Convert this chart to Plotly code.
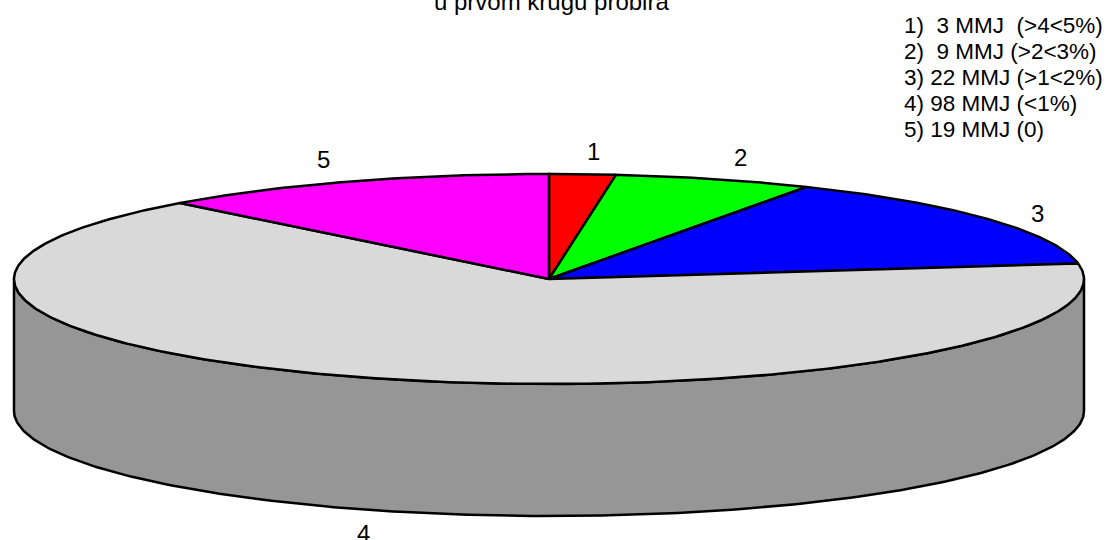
import numpy as np
import plotly.graph_objects as go

categories = ["1", "2", "3", "4", "5"]
# Slice sizes as drawn in the picture (the last one reads a little under the legend's 19)
values = [3, 9, 22, 98, 18.2]
colors = ["#ff0000", "#00ff00", "#0000ff", "#d9d9d9", "#ff00ff"]
legend_lines = [
    "1)\u00a0\u00a03 MMJ\u00a0\u00a0(&gt;4&lt;5%)",
    "2)\u00a0\u00a09 MMJ (&gt;2&lt;3%)",
    "3) 22 MMJ (&gt;1&lt;2%)",
    "4) 98 MMJ (&lt;1%)",
    "5) 19 MMJ (0)",
]
title_text = "u prvom krugu probira"
label_pos = [(593, 151), (740, 157), (1037, 213), (363, 533), (323, 159)]

CX, CY, RX, RY, DEPTH = 549, 279, 535, 105, 132
SIDE = "#969696"
FS = 22.5
FONT = "Liberation Sans, Arial, sans-serif"
LW = 2.5


def ex(t):
    return CX + RX * np.sin(t)


def ey(t):
    return CY - RY * np.cos(t)


fig = go.Figure()

# Side wall: lower half of the rim, extruded downward
t = np.linspace(np.pi / 2, 3 * np.pi / 2, 240)
xs = np.concatenate([ex(t), ex(t[::-1]), ex(t[:1])])
ys = np.concatenate([ey(t) + DEPTH, ey(t[::-1]), ey(t[:1]) + DEPTH])
fig.add_trace(go.Scatter(x=xs, y=ys, mode="lines", fill="toself", fillcolor=SIDE,
                         line=dict(color="black", width=LW), hoverinfo="skip", showlegend=False))

# Top face: each slice's angle comes from its value
edges = np.cumsum([0] + values) / sum(values) * 2 * np.pi
for i, name in enumerate(categories):
    n = max(int((edges[i + 1] - edges[i]) * 120), 8)
    a = np.linspace(edges[i], edges[i + 1], n)
    fig.add_trace(go.Scatter(
        x=np.concatenate([[CX], ex(a), [CX]]),
        y=np.concatenate([[CY], ey(a), [CY]]),
        mode="lines", fill="toself", fillcolor=colors[i], name=name,
        line=dict(color="black", width=LW), hoverinfo="skip", showlegend=False))

ann = [dict(x=551, y=1, text=title_text, xanchor="center", yanchor="middle", size=24)]
for name, (px, py) in zip(categories, label_pos):
    ann.append(dict(x=px, y=py, text=name, xanchor="center", yanchor="middle", size=24))
for i, line in enumerate(legend_lines):
    ann.append(dict(x=903, y=25 + i * 26.2, text=line, xanchor="left", yanchor="middle", size=FS))
for a in ann:
    size = a.pop("size")
    a.update(xref="x", yref="y", showarrow=False, borderpad=0,
             font=dict(family=FONT, size=size, color="black"))

fig.update_layout(
    width=1107, height=540, margin=dict(l=0, r=0, t=0, b=0),
    paper_bgcolor="white", plot_bgcolor="white", annotations=ann,
    xaxis=dict(range=[0, 1107], visible=False, fixedrange=True),
    yaxis=dict(range=[540, 0], visible=False, fixedrange=True),
)
fig.write_html("out.html", config={"displayModeBar": False},
               post_script="document.body.style.margin='0';document.body.style.overflow='hidden';")
